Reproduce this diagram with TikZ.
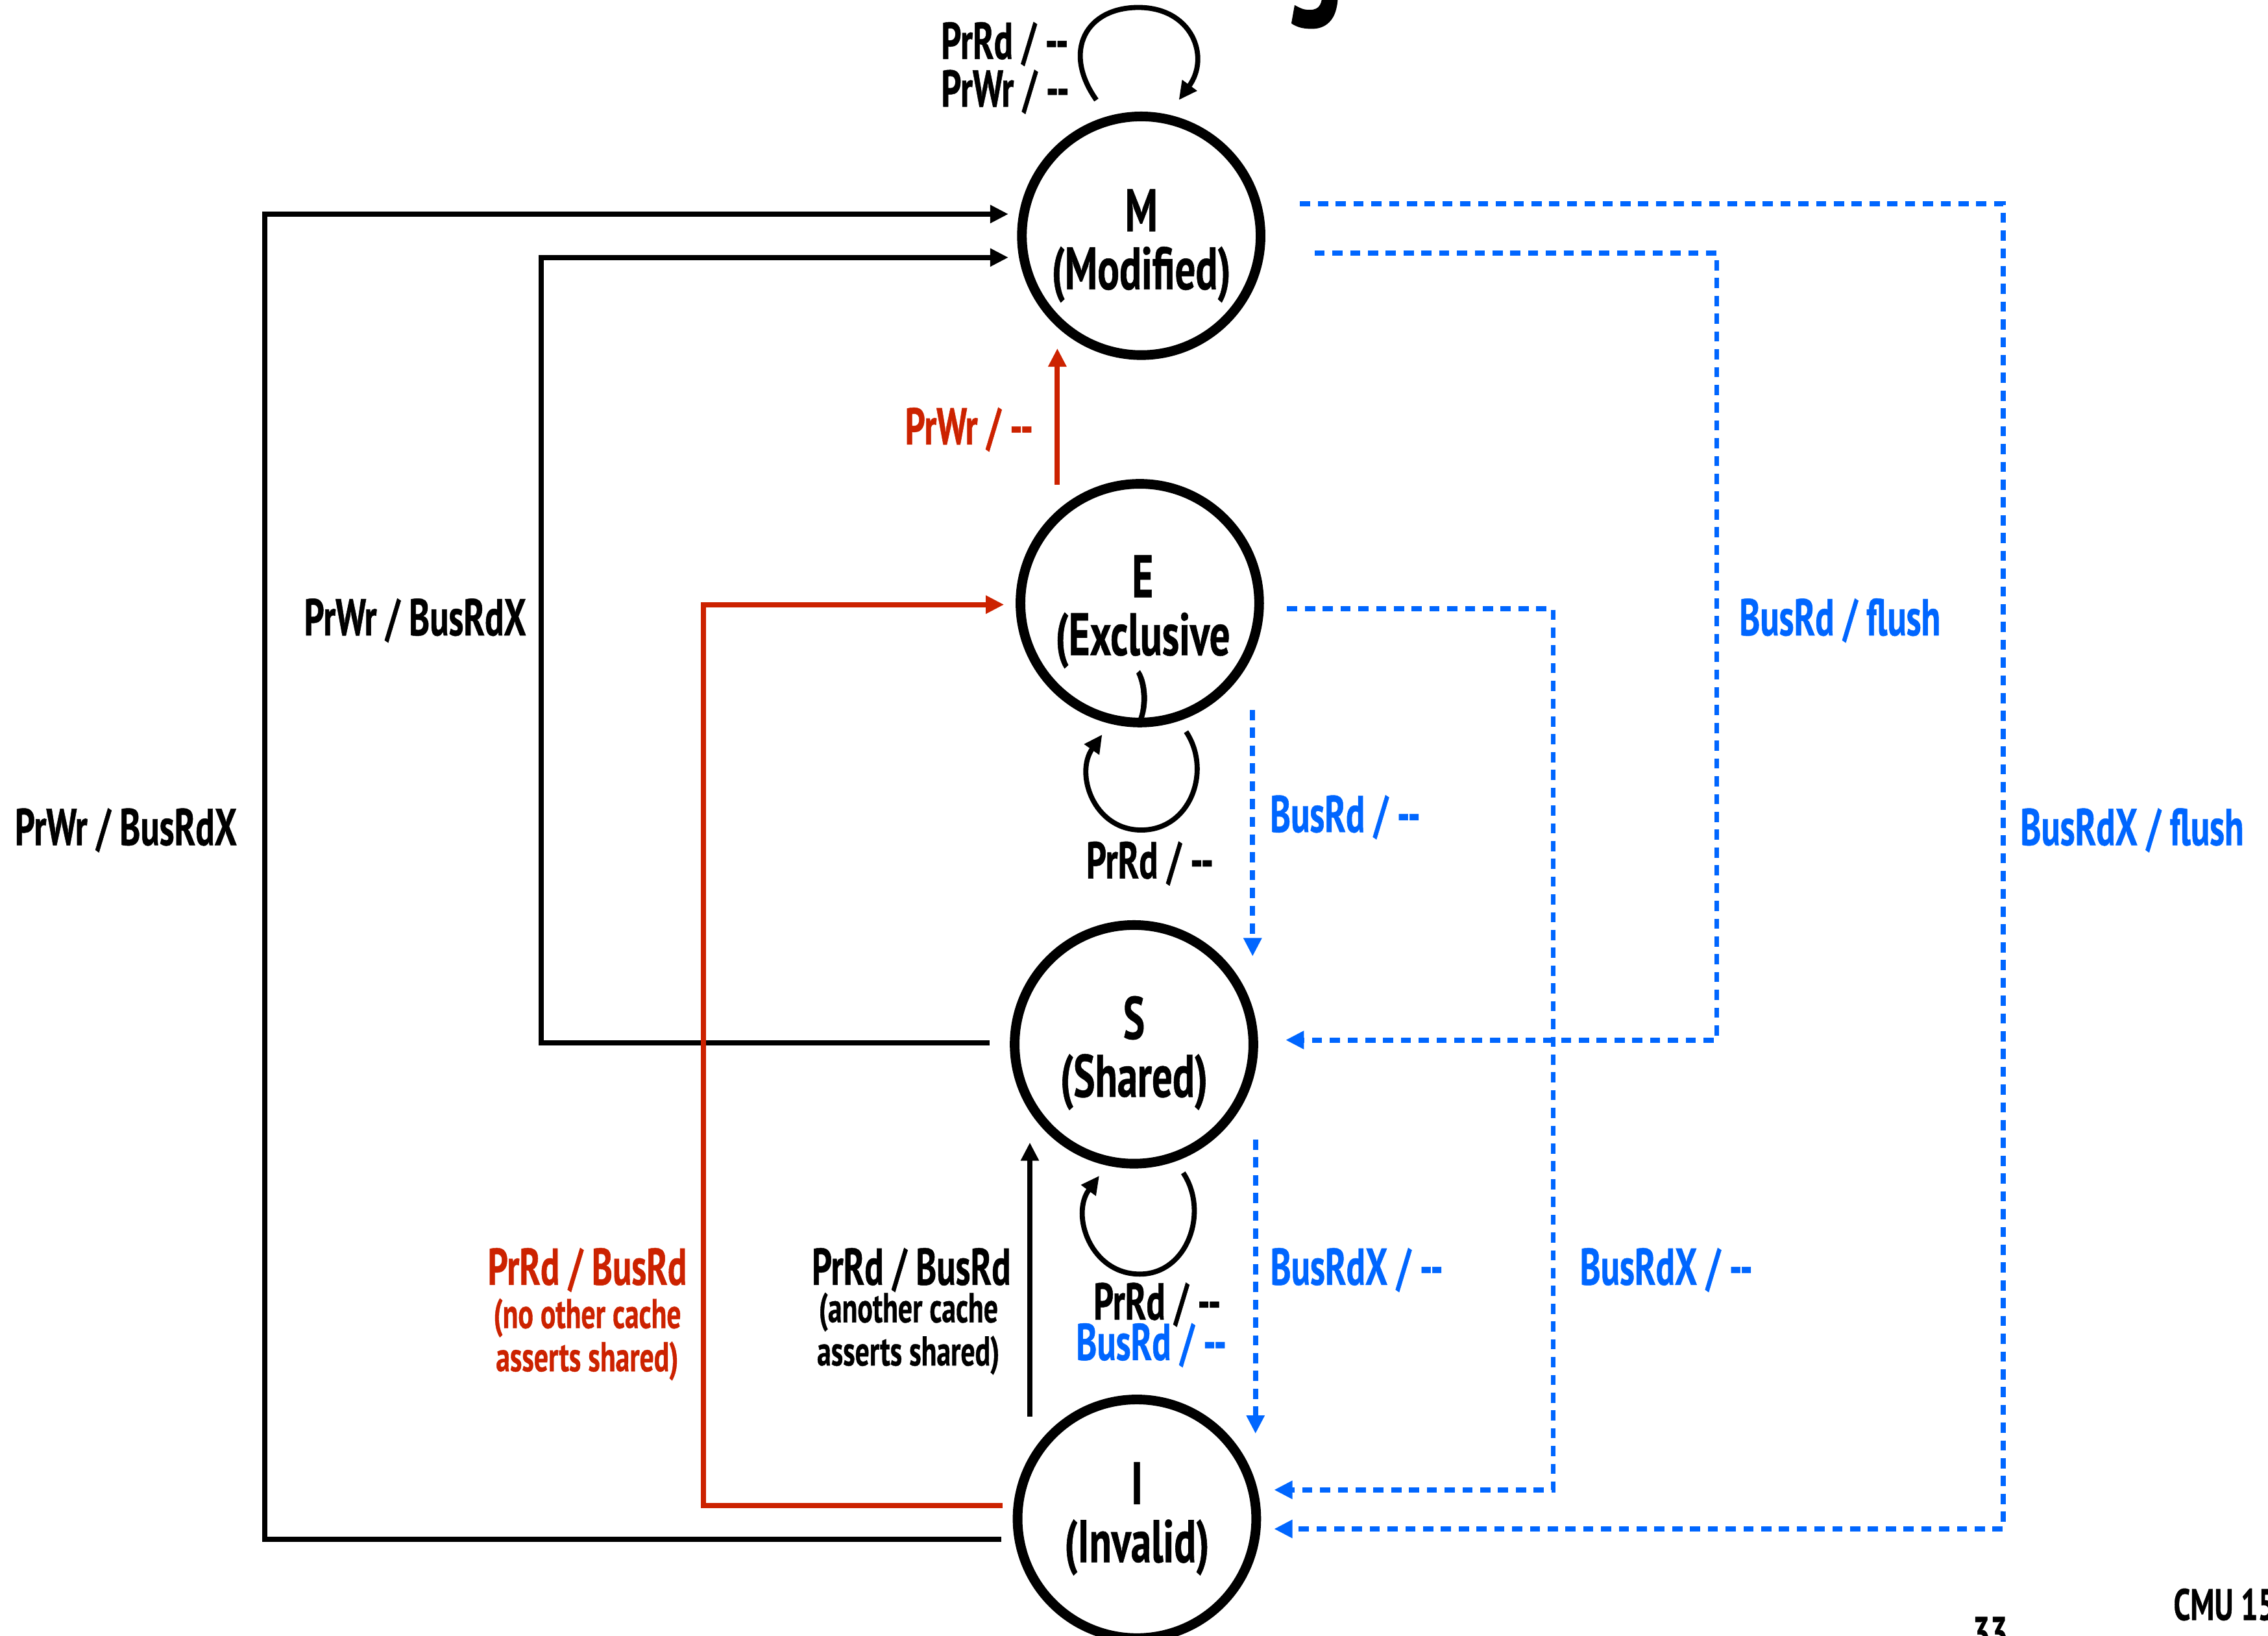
\documentclass[tikz,border=0pt]{standalone}
\usepackage{fontspec}
\setmainfont{PT Sans}[FakeStretch=0.68, BoldFeatures={FakeBold=0.6}]
\usetikzlibrary{arrows.meta,calc}
\definecolor{cmured}{HTML}{CC2200}
\definecolor{cmublue}{HTML}{0066FF}
\newcommand{\dd}{-{}-}
\begin{document}
\begin{tikzpicture}[x=0.1mm,y=-0.1mm,
  state/.style={circle, draw, line width=1.9pt, minimum size=16.5mm, inner sep=0pt},
  stext/.style={align=center, inner sep=0pt, font=\bfseries\fontsize{11.8}{11.4}\selectfont},
  conn/.style={line width=1pt, -{Triangle[length=3.6pt,width=3.4pt]}},
  redconn/.style={conn, cmured},
  bluconn/.style={conn, cmublue, dash pattern=on 2pt off 1.5pt},
  lbl/.style={font=\bfseries\fontsize{10.2}{12}\selectfont, inner sep=0pt},
  sml/.style={font=\bfseries\fontsize{8.2}{8.5}\selectfont, inner sep=0pt}]
\useasboundingbox (0,0) rectangle (1568,1131);

% title fragment and footer
\node[anchor=base, inner sep=0pt, font=\bfseries\fontsize{33}{33}\selectfont] (title) at (908,-5) {g};
\node[anchor=base, inner sep=0pt, font=\bfseries\fontsize{9}{10}\selectfont] (page) at (1376,1140) {33};
\node[anchor=base west, inner sep=0pt, font=\bfseries\fontsize{8.7}{10}\selectfont] (cmu) at (1502,1120) {CMU 15};

% states
\node[state] (M) at (789,163) {};
\node[stext] (Mtext) at (789,170) {M\\(Modified)};
\node[state] (E) at (788,417) {};
\node[stext] (Etext) at (790,443) {E\\(Exclusive\\)};
\node[state] (S) at (784,722) {};
\node[stext] (Stext) at (784,728) {S\\(Shared)};
\node[state] (I) at (786,1050) {};
\node[stext] (Itext) at (786,1050) {I\\(Invalid)};

% black PrWr / BusRdX connectors
\draw[conn] ($(I.west)+(-8,14)$) -- ++(-509,0) |- ($(M.west)+(-6,-15)$);
\draw[conn] ($(S.west)+(-14,-1)$) -- ++(-310,0) |- ($(M.west)+(-6,15)$);
\node[lbl] (l1) at (87,574) {PrWr / BusRdX};
\node[lbl] (l2) at (287,429) {PrWr / BusRdX};

% red connectors
\draw[redconn] ($(I.west)+(-7,-9)$) -- ++(-207,0) |- ($(E.west)+(-8,1)$);
\draw[redconn] ($(E.north)+(-57,4)$) -- ($(M.south)+(-58,-8)$);
\node[lbl, cmured] (l3) at (670,297) {PrWr / \dd};
\node[lbl, cmured] (l4) at (406,878) {PrRd / BusRd};
\node[sml, cmured, align=center] (l5) at (406,926) {(no other cache\\asserts shared)};

% black I -> S
\draw[conn] ($(I.north)+(-74,15)$) -- ($(S.south)+(-72,-18)$);
\node[lbl] (l6) at (630,878) {PrRd / BusRd};
\node[sml, align=center] (l7) at (628,922) {(another cache\\asserts shared)};

% self loops
\draw[conn] ($(M.north)+(-31,-8)$) .. controls ($(M.north)+(-55,-42)$) and ($(M.north)+(-38,-72)$) .. ($(M.north)+(-2,-72)$)
  .. controls ($(M.north)+(35,-72)$) and ($(M.north)+(48,-38)$) .. ($(M.north)+(26,-8)$);
\node[lbl, align=left, anchor=west, font=\bfseries\fontsize{10.2}{9.4}\selectfont] (l8) at (650,47) {PrRd / \dd\\PrWr / \dd};
\draw[conn] ($(E.south)+(32,3)$) .. controls ($(E.south)+(50,30)$) and ($(E.south)+(35,71)$) .. ($(E.south)+(1,71)$)
  .. controls ($(E.south)+(-32,71)$) and ($(E.south)+(-45,32)$) .. ($(E.south)+(-26,5)$);
\node[lbl] (l9) at (795,597) {PrRd / \dd};
\draw[conn] ($(S.south)+(34,3)$) .. controls ($(S.south)+(52,30)$) and ($(S.south)+(37,73)$) .. ($(S.south)+(4,73)$)
  .. controls ($(S.south)+(-30,73)$) and ($(S.south)+(-44,32)$) .. ($(S.south)+(-24,5)$);
\node[lbl] (l10) at (800,902) {PrRd / \dd};
\node[lbl, cmublue] (l11) at (796,930) {BusRd / \dd};

% blue dashed connectors
\draw[bluconn] ($(M.east)+(24,-22)$) -- ++(486,0) |- ($(I.east)+(9,7)$);
\draw[bluconn] ($(M.east)+(34,12)$) -- ++(278,0) |- ($(S.east)+(19,-3)$);
\draw[bluconn] ($(E.east)+(16,4)$) -- ++(184,0) |- ($(I.east)+(9,-20)$);
\draw[bluconn] ($(E.south)+(78,-12)$) -- ($(S.north)+(82,25)$);
\draw[bluconn] ($(S.south)+(84,-20)$) -- ($(I.north)+(82,27)$);
\node[lbl, cmublue] (l12) at (1474,574) {BusRdX / flush};
\node[lbl, cmublue] (l13) at (1272,429) {BusRd / flush};
\node[lbl, cmublue] (l14) at (930,565) {BusRd / \dd};
\node[lbl, cmublue] (l15) at (938,878) {BusRdX / \dd};
\node[lbl, cmublue] (l16) at (1152,878) {BusRdX / \dd};
\end{tikzpicture}
\end{document}
